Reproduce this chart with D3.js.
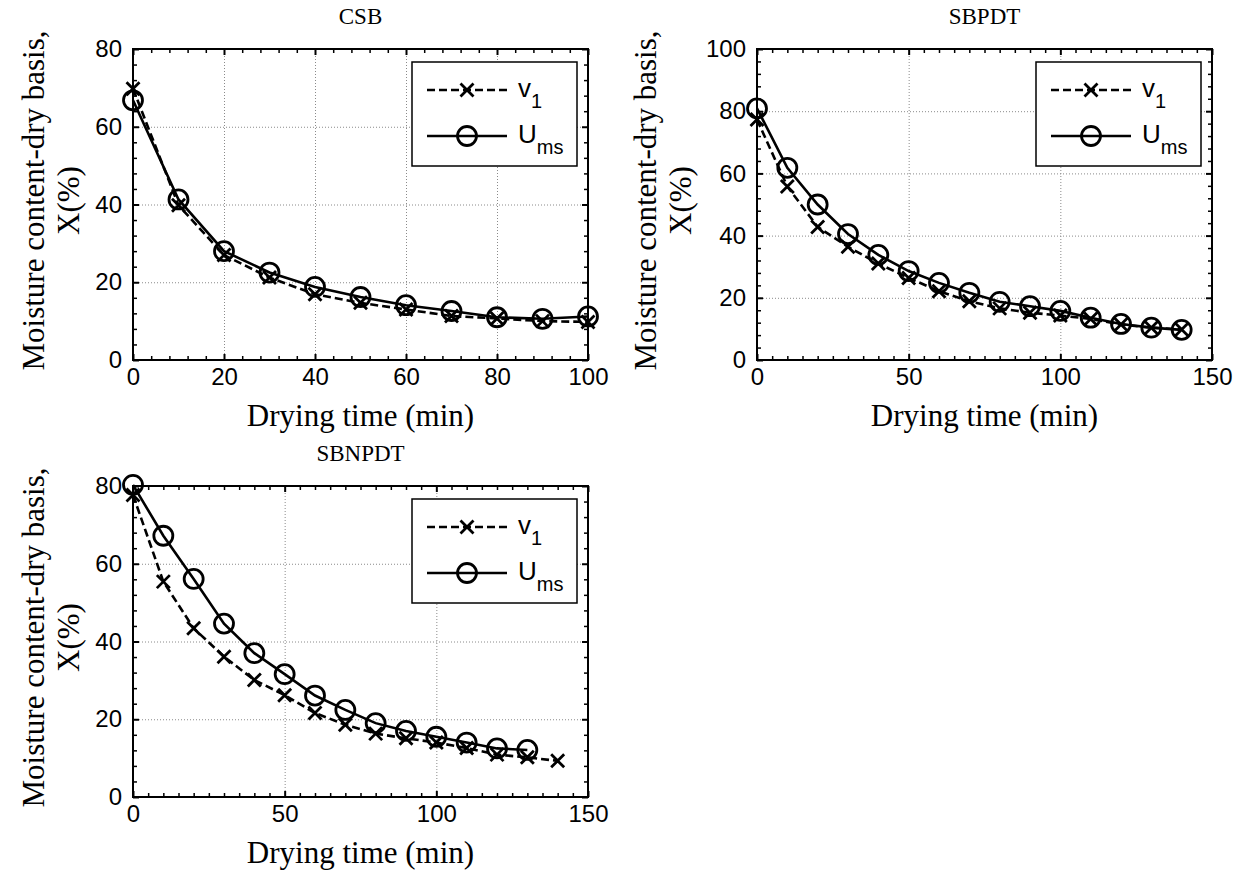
<!DOCTYPE html>
<html>
<head>
<meta charset="utf-8">
<script src="https://cdn.jsdelivr.net/npm/d3@7"></script>
<style>
  body { margin: 0; background: #fff; }
  .tick text { font-family: "Liberation Sans", Arial, sans-serif; font-size: 24px; fill: #000; }
  .domain { display: none; }
</style>
</head>
<body>
<script>
// ---- data ----
var csbTime = [0, 10, 20, 30, 40, 50, 60, 70, 80, 90, 100];
var csbV1   = [69.8, 39.8, 27.0, 21.2, 16.9, 14.7, 13.0, 11.3, 10.7, 10.0, 9.8];
var csbUms  = [66.8, 41.3, 28.0, 22.5, 18.8, 16.2, 14.1, 12.6, 11.0, 10.6, 11.2];

var sbpdtTime = [0, 10, 20, 30, 40, 50, 60, 70, 80, 90, 100, 110, 120, 130, 140];
var sbpdtV1   = [77.3, 55.8, 42.8, 36.4, 31.0, 26.4, 22.1, 18.9, 16.6, 15.2, 14.3, 13.2, 11.4, 10.4, 9.8];
var sbpdtUms  = [80.9, 61.8, 50.0, 40.5, 33.8, 28.6, 24.8, 21.6, 18.7, 17.3, 15.8, 13.6, 11.6, 10.4, 9.7];

var sbnpdtTimeV1  = [0, 10, 20, 30, 40, 50, 60, 70, 80, 90, 100, 110, 120, 130, 140];
var sbnpdtV1      = [77.7, 55.4, 43.4, 36.1, 30.1, 26.2, 21.6, 18.6, 16.3, 15.1, 14.0, 12.6, 10.9, 10.2, 9.3];
var sbnpdtTimeUms = [0, 10, 20, 30, 40, 50, 60, 70, 80, 90, 100, 110, 120, 130];
var sbnpdtUms     = [80.3, 67.2, 56.1, 44.6, 37.0, 31.6, 26.1, 22.4, 19.0, 17.0, 15.5, 14.0, 12.5, 12.1];

var titles = ['CSB', 'SBPDT', 'SBNPDT'];
var xTicks100 = [0, 20, 40, 60, 80, 100];
var xTicks150 = [0, 50, 100, 150];
var yTicks80  = [0, 20, 40, 60, 80];
var yTicks100 = [0, 20, 40, 60, 80, 100];
var seriesNames = ['v', 'U'];
var seriesSubs  = ['1', 'ms'];
var xLabel = 'Drying time (min)';
var yLabel1 = 'Moisture content-dry basis,';
var yLabel2 = 'X(%)';

var width = 1239,
    height = 877;

var svg = d3.select('body')
  .append('svg')
    .attr('width', width)
    .attr('height', height)

var panels = [
  { title: titles[0], left: 133, top: 49, right: 588, bottom: 360,
    xMax: 100, xTicks: xTicks100, xMinor: 4, yMax: 80, yTicks: yTicks80, yMinor: 4,
    v1: { t: csbTime, y: csbV1 }, ums: { t: csbTime, y: csbUms }, labOff: 0 },
  { title: titles[1], left: 757, top: 49, right: 1212, bottom: 360,
    xMax: 150, xTicks: xTicks150, xMinor: 5, yMax: 100, yTicks: yTicks100, yMinor: 4,
    v1: { t: sbpdtTime, y: sbpdtV1 }, ums: { t: sbpdtTime, y: sbpdtUms }, labOff: 12 },
  { title: titles[2], left: 133, top: 486, right: 588, bottom: 797,
    xMax: 150, xTicks: xTicks150, xMinor: 5, yMax: 80, yTicks: yTicks80, yMinor: 4,
    v1: { t: sbnpdtTimeV1, y: sbnpdtV1 }, ums: { t: sbnpdtTimeUms, y: sbnpdtUms }, labOff: 0 }
];

function minorTicks(max, step, majors){
  return d3.range(0, max + 0.001, step).filter(function(d){ return majors.indexOf(d) < 0; });
}

function xMarker(g, cx, cy, s){
  g.append('path')
    .attr('d', 'M' + (cx - s) + ',' + (cy - s) + 'L' + (cx + s) + ',' + (cy + s) +
               'M' + (cx - s) + ',' + (cy + s) + 'L' + (cx + s) + ',' + (cy - s))
    .attr('stroke', '#000')
    .attr('stroke-width', 2.8)
    .attr('fill', 'none')
}

panels.forEach(function(p){
  var w = p.right - p.left,
      h = p.bottom - p.top;
  var x = d3.scaleLinear().domain([0, p.xMax]).range([p.left, p.right]);
  var y = d3.scaleLinear().domain([0, p.yMax]).range([p.bottom, p.top]);
  var xm = minorTicks(p.xMax, p.xMinor, p.xTicks),
      ym = minorTicks(p.yMax, p.yMinor, p.yTicks);

  // grid
  svg.append('g')
      .attr('transform', 'translate(0,' + p.bottom + ')')
      .call(d3.axisBottom(x).tickValues(p.xTicks).tickSize(-h).tickFormat(''))
    .selectAll('line')
      .attr('stroke', '#8a8a8a').attr('stroke-dasharray', '1,2')
  svg.append('g')
      .attr('transform', 'translate(' + p.left + ',0)')
      .call(d3.axisLeft(y).tickValues(p.yTicks).tickSize(-w).tickFormat(''))
    .selectAll('line')
      .attr('stroke', '#8a8a8a').attr('stroke-dasharray', '1,2')

  // box
  svg.append('rect')
      .attr('x', p.left).attr('y', p.top)
      .attr('width', w).attr('height', h)
      .attr('fill', 'none').attr('stroke', '#000').attr('stroke-width', 2)

  // ticks on all four sides, pointing in
  var axes = [
    { f: function(){ return d3.axisBottom(x); }, tr: 'translate(0,' + p.bottom + ')', m: p.xTicks, n: xm, lab: true, pad: 8 },
    { f: function(){ return d3.axisTop(x); },    tr: 'translate(0,' + p.top + ')',    m: p.xTicks, n: xm, lab: false },
    { f: function(){ return d3.axisLeft(y); },   tr: 'translate(' + p.left + ',0)',   m: p.yTicks, n: ym, lab: true, pad: 11 },
    { f: function(){ return d3.axisRight(y); },  tr: 'translate(' + p.right + ',0)',  m: p.yTicks, n: ym, lab: false }
  ];
  axes.forEach(function(ax){
    var major = ax.f().tickValues(ax.m).tickSizeInner(-6).tickSizeOuter(0);
    if (ax.lab) major.tickPadding(ax.pad); else major.tickFormat('');
    svg.append('g').attr('transform', ax.tr).call(major)
      .selectAll('line').attr('stroke', '#000').attr('stroke-width', 2)
    svg.append('g').attr('transform', ax.tr)
        .call(ax.f().tickValues(ax.n).tickSizeInner(-4).tickSizeOuter(0).tickFormat(''))
      .selectAll('line').attr('stroke', '#000').attr('stroke-width', 1.5)
  });

  // series
  var v1Pts = p.v1.t.map(function(t, i){ return [t, p.v1.y[i]]; });
  var umsPts = p.ums.t.map(function(t, i){ return [t, p.ums.y[i]]; });
  var line = d3.line().x(function(d){ return x(d[0]); }).y(function(d){ return y(d[1]); });

  svg.append('path')
      .datum(v1Pts)
      .attr('d', line)
      .attr('fill', 'none').attr('stroke', '#000').attr('stroke-width', 2.6)
      .attr('stroke-dasharray', '8,4')
  var mg = svg.append('g');
  v1Pts.forEach(function(d){ xMarker(mg, x(d[0]), y(d[1]), 6.5); });

  svg.append('path')
      .datum(umsPts)
      .attr('d', line)
      .attr('fill', 'none').attr('stroke', '#000').attr('stroke-width', 2.6)
  svg.append('g').selectAll('circle')
      .data(umsPts).enter()
    .append('circle')
      .attr('cx', function(d){ return x(d[0]); })
      .attr('cy', function(d){ return y(d[1]); })
      .attr('r', 9.5)
      .attr('fill', 'none').attr('stroke', '#000').attr('stroke-width', 2.8)

  // titles and labels
  svg.append('text')
      .attr('x', (p.left + p.right) / 2).attr('y', p.top - 25)
      .attr('text-anchor', 'middle')
      .style('font-family', '"Liberation Serif", "Times New Roman", serif')
      .style('font-size', '23px')
      .text(p.title)
  svg.append('text')
      .attr('x', (p.left + p.right) / 2).attr('y', p.bottom + 66)
      .attr('text-anchor', 'middle')
      .style('font-family', '"Liberation Serif", "Times New Roman", serif')
      .style('font-size', '31px')
      .text(xLabel)
  var cy = (p.top + p.bottom) / 2 - 4;
  [yLabel1, yLabel2].forEach(function(s, i){
    var bx = p.left - 89 - p.labOff + i * 35;
    svg.append('text')
        .attr('transform', 'translate(' + bx + ',' + cy + ') rotate(-90)')
        .attr('text-anchor', 'middle')
        .style('font-family', '"Liberation Serif", "Times New Roman", serif')
        .style('font-size', '31px')
        .text(s)
  });

  // legend
  var lx = p.right - 176, ly = p.top + 13;
  var lg = svg.append('g').attr('transform', 'translate(' + lx + ',' + ly + ')');
  lg.append('rect')
      .attr('width', 165).attr('height', 104)
      .attr('fill', '#fff').attr('stroke', '#000').attr('stroke-width', 1.5)
  var rows = [28, 74];
  lg.append('line')
      .attr('x1', 15).attr('x2', 95).attr('y1', rows[0]).attr('y2', rows[0])
      .attr('stroke', '#000').attr('stroke-width', 2.6).attr('stroke-dasharray', '8,4')
  xMarker(lg, 55, rows[0], 6.5);
  lg.append('line')
      .attr('x1', 15).attr('x2', 95).attr('y1', rows[1]).attr('y2', rows[1])
      .attr('stroke', '#000').attr('stroke-width', 2.6)
  lg.append('circle')
      .attr('cx', 55).attr('cy', rows[1]).attr('r', 9.5)
      .attr('fill', 'none').attr('stroke', '#000').attr('stroke-width', 2.8)
  rows.forEach(function(ry, i){
    var t = lg.append('text')
        .attr('x', 106).attr('y', ry + 7)
        .style('font-family', '"Liberation Sans", Arial, sans-serif')
        .style('font-size', '26px')
    t.append('tspan').text(seriesNames[i])
    t.append('tspan').attr('dy', 11).style('font-size', '20px').text(seriesSubs[i])
  });
});
</script>
</body>
</html>
